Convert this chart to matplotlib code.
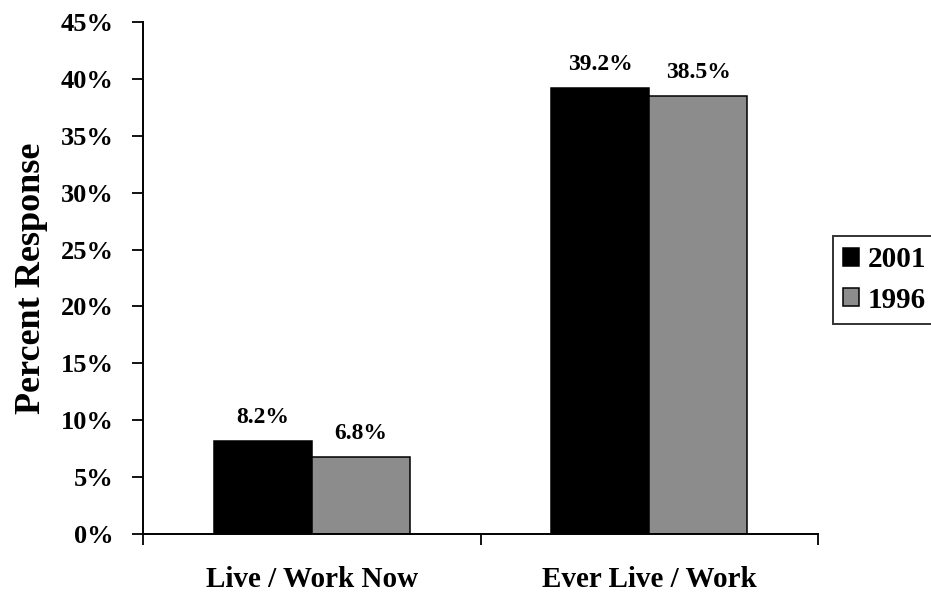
import matplotlib
matplotlib.use("Agg")
import matplotlib.pyplot as plt
import numpy as np

categories = ["Live / Work Now", "Ever Live / Work"]
series_names = ["2001", "1996"]
values_2001 = [8.2, 39.2]
values_1996 = [6.8, 38.5]
colors = ["#000000", "#8c8c8c"]
yticks = list(range(0, 50, 5))

plt.rcParams["font.family"] = ["Liberation Serif", "DejaVu Serif"]
plt.rcParams["font.weight"] = "bold"

fig = plt.figure(figsize=(9.31, 5.92), dpi=100)
ax = fig.add_axes([143 / 931, 1 - 534 / 592, 675 / 931, 512 / 592])

x = np.arange(len(categories))
w = 0.29
for i, (vals, name) in enumerate(zip([values_2001, values_1996], series_names)):
    pos = x + (i - 0.5) * w
    bars = ax.bar(pos, vals, width=w, color=colors[i], edgecolor="black",
                  linewidth=1.1, label=name)
    for b, v in zip(bars, vals):
        ax.annotate(f"{v:.1f}%", (b.get_x() + b.get_width() / 2, v),
                    xytext=(0, 9), textcoords="offset points",
                    ha="center", va="bottom", fontsize=17, fontweight="bold")

ax.set_xlim(-0.5, 1.5)
ax.set_ylim(0, 45)
ax.set_yticks(yticks)
ax.set_yticklabels([f"{t}%" for t in yticks], fontsize=19, fontweight="bold")
# category dividers as major ticks, names on minor ticks at bar-group centres
ax.set_xticks([-0.5, 0.5, 1.5])
ax.set_xticklabels([])
ax.set_xticks(x, minor=True)
ax.set_xticklabels(categories, minor=True, fontsize=21, fontweight="bold")
ax.tick_params(axis="x", which="minor", length=0, pad=23)
ax.tick_params(axis="x", which="major", length=8, width=1.3, direction="out")
ax.tick_params(axis="y", length=8, width=1.3, direction="out", pad=13)

for s in ["top", "right"]:
    ax.spines[s].set_visible(False)
for s in ["left", "bottom"]:
    ax.spines[s].set_linewidth(1.4)

ax.set_ylabel("Percent Response", fontsize=26, fontweight="bold", labelpad=9)

leg = fig.legend(loc="center left", bbox_to_anchor=(833 / 931, 1 - 280 / 592),
                 prop={"size": 21, "weight": "bold"}, frameon=True,
                 fancybox=False, edgecolor="black",
                 handlelength=0.55, handleheight=0.55, handletextpad=0.3,
                 borderpad=0.35, labelspacing=0.45, borderaxespad=0)
leg.get_frame().set_linewidth(1.4)

fig.savefig("out.png", dpi=100)
